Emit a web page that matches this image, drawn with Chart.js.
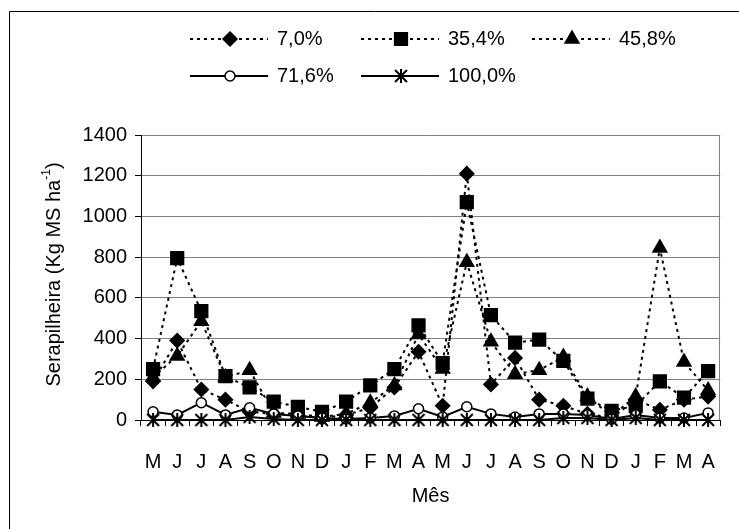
<!DOCTYPE html>
<html>
<head>
<meta charset="utf-8">
<script src="https://cdn.jsdelivr.net/npm/chart.js@4/dist/chart.umd.min.js"></script>
<style>
  html, body { margin: 0; padding: 0; background: #fff; }
  #wrap { width: 739px; height: 529px; position: relative; }
</style>
</head>
<body>
<div id="wrap"><canvas id="c" width="739" height="529"></canvas></div>
<script>
// Months of the sampling period (May to April, two years)
const months = ['M','J','J','A','S','O','N','D','J','F','M','A',
                'M','J','J','A','S','O','N','D','J','F','M','A'];

// Series labels (percent levels)
const seriesNames = ['7,0%', '35,4%', '45,8%', '71,6%', '100,0%'];

// Litter values, kg MS ha-1
const s070  = [190, 390, 150, 100,  40,  30,  20,  10,  25,  60, 160, 335,
                70, 1210, 175, 305, 100,  70,  30,  10, 100,  50, 100, 115];
const s354  = [250, 795, 535, 215, 160,  90,  65,  40,  90, 170, 250, 465,
               280, 1070, 515, 380, 395, 290, 105,  45,  70, 190, 110, 240];
const s458  = [210, 315, 485, 210, 245,  35,  30,  15,  30,  85, 170, 420,
               250, 775, 385, 225, 245, 310, 115,  20, 115, 845, 285, 145];
const s716  = [ 40,  25,  85,  25,  60,  30,  20,  10,   5,  10,  20,  55,
                15,  65,  30,  15,  30,  30,  25,   5,  25,  10,  10,  35];
const s1000 = [  0,   0,   0,   0,  15,   5,   0,   0,   0,   0,   0,   0,
                 0,   0,   0,   0,   0,  10,  10,   0,  10,   0,   0,   0];

// Y axis tick values
const yTicks = [0, 200, 400, 600, 800, 1000, 1200, 1400];

const FONT = '"Liberation Sans", Arial, sans-serif';
const FS = 20;

// Asterisk marker (X with a vertical bar)
function makeStar(size) {
  const c = document.createElement('canvas');
  c.width = size; c.height = size;
  const g = c.getContext('2d');
  const m = size / 2, r = size / 2 - 1;
  g.strokeStyle = '#000';
  g.lineWidth = 2;
  g.beginPath();
  g.moveTo(m, m - r); g.lineTo(m, m + r);
  const d = r * 0.85;
  g.moveTo(m - d, m - d); g.lineTo(m + d, m + d);
  g.moveTo(m - d, m + d); g.lineTo(m + d, m - d);
  g.stroke();
  return c;
}
const starImg = makeStar(16);

const DOTS = [3, 4];
const styles = [
  { data: s070,  pointStyle: 'rectRot',  radius: 7, fill: '#000', dash: DOTS },
  { data: s354,  pointStyle: 'rect',     radius: 9, fill: '#000', dash: DOTS },
  { data: s458,  pointStyle: 'triangle', radius: 8, fill: '#000', dash: DOTS },
  { data: s716,  pointStyle: 'circle',   radius: 5, fill: '#fff', dash: [] },
  { data: s1000, pointStyle: starImg,    radius: 8, fill: '#000', dash: [] }
];

const datasets = styles.map((s, i) => ({
  label: seriesNames[i],
  data: s.data,
  borderColor: '#000',
  borderWidth: 2,
  borderDash: s.dash,
  backgroundColor: s.fill,
  pointStyle: s.pointStyle,
  pointRadius: s.radius,
  pointHoverRadius: s.radius,
  pointBackgroundColor: s.fill,
  pointBorderColor: '#000',
  pointBorderWidth: 1.5,
  tension: 0,
  fill: false,
  clip: false,
  order: styles.length - 1 - i
}));

// Small marker painter for the legend samples
function drawMarker(ctx, style, r, fill, x, y) {
  ctx.save();
  ctx.fillStyle = fill;
  ctx.strokeStyle = '#000';
  ctx.lineWidth = 1.5;
  ctx.setLineDash([]);
  if (style instanceof HTMLCanvasElement) {
    ctx.drawImage(style, x - style.width / 2, y - style.height / 2);
    ctx.restore();
    return;
  }
  ctx.beginPath();
  if (style === 'rectRot') {
    ctx.moveTo(x, y - r); ctx.lineTo(x + r, y); ctx.lineTo(x, y + r); ctx.lineTo(x - r, y);
  } else if (style === 'rect') {
    const h = r / Math.SQRT2;
    ctx.rect(x - h, y - h, 2 * h, 2 * h);
  } else if (style === 'triangle') {
    ctx.moveTo(x, y - r);
    ctx.lineTo(x + r * Math.sin(Math.PI / 3), y + r / 2);
    ctx.lineTo(x - r * Math.sin(Math.PI / 3), y + r / 2);
  } else {
    ctx.arc(x, y, r, 0, Math.PI * 2);
  }
  ctx.closePath();
  ctx.fill();
  ctx.stroke();
  ctx.restore();
}

const decor = {
  id: 'decor',
  beforeDraw(chart) {
    const ctx = chart.ctx;
    ctx.save();
    ctx.fillStyle = '#fff';
    ctx.fillRect(0, 0, chart.width, chart.height);
    // outer frame
    ctx.strokeStyle = '#000';
    ctx.lineWidth = 1;
    ctx.beginPath();
    ctx.moveTo(9.5, chart.height); ctx.lineTo(9.5, 11.5); ctx.lineTo(chart.width, 11.5);
    ctx.stroke();
    ctx.restore();
  },
  beforeDatasetsDraw(chart) {
    const { ctx, chartArea: a } = chart;
    ctx.save();
    ctx.strokeStyle = '#808080';
    ctx.lineWidth = 1;
    ctx.beginPath();
    ctx.moveTo(Math.round(a.right) - 0.5, a.top);
    ctx.lineTo(Math.round(a.right) - 0.5, a.bottom);
    ctx.stroke();
    ctx.restore();
  },
  afterDraw(chart) {
    const { ctx, chartArea: a } = chart;
    ctx.save();
    ctx.fillStyle = '#000';
    ctx.font = FS + 'px ' + FONT;
    ctx.textBaseline = 'middle';

    // legend: two rows
    const x0 = 190, step = 171, lineLen = 78;
    const rows = [[0, 1, 2], [3, 4]];
    const rowY = [39, 76];
    rows.forEach((row, ri) => {
      row.forEach((di, ci) => {
        const s = styles[di];
        const lx = x0 + ci * step, y = rowY[ri];
        ctx.save();
        ctx.strokeStyle = '#000';
        ctx.lineWidth = 2;
        ctx.setLineDash(s.dash);
        ctx.beginPath();
        ctx.moveTo(lx, y); ctx.lineTo(lx + lineLen, y);
        ctx.stroke();
        ctx.restore();
        drawMarker(ctx, s.pointStyle, s.radius, s.fill, lx + 40, y);
        ctx.textAlign = 'left';
        ctx.fillText(seriesNames[di], lx + 87, y);
      });
    });

    // x axis title
    ctx.textAlign = 'center';
    ctx.fillText('Mês', (a.left + a.right) / 2, a.bottom + 76);

    // y axis title with superscript
    const main = 'Serapilheira (Kg MS ha';
    const sup = '-1';
    const tail = ')';
    const supFont = Math.round(FS * 0.6) + 'px ' + FONT;
    const wMain = ctx.measureText(main).width;
    const wTail = ctx.measureText(tail).width;
    ctx.font = supFont;
    const wSup = ctx.measureText(sup).width;
    const total = wMain + wSup + wTail;
    ctx.translate(54, (a.top + a.bottom) / 2 - 3);
    ctx.rotate(-Math.PI / 2);
    ctx.textAlign = 'left';
    let x = -total / 2;
    ctx.font = FS + 'px ' + FONT;
    ctx.fillText(main, x, 0); x += wMain;
    ctx.font = supFont;
    ctx.fillText(sup, x, -7); x += wSup;
    ctx.font = FS + 'px ' + FONT;
    ctx.fillText(tail, x, 0);
    ctx.restore();
  }
};

new Chart(document.getElementById('c'), {
  type: 'line',
  data: { labels: months, datasets },
  plugins: [decor],
  options: {
    responsive: false,
    animation: false,
    events: [],
    layout: { padding: { top: 135, left: 0, right: 4, bottom: 0 } },
    plugins: { legend: { display: false }, tooltip: { enabled: false } },
    scales: {
      x: {
        type: 'category',
        offset: true,
        afterFit(scale) { scale.height = 109; },
        grid: {
          offset: true,
          drawOnChartArea: false,
          drawTicks: true,
          tickLength: 6,
          color: '#000',
          tickColor: '#000'
        },
        border: { color: '#000', width: 1 },
        ticks: {
          color: '#000',
          font: { family: FONT, size: FS },
          padding: 24,
          maxRotation: 0,
          autoSkip: false
        }
      },
      y: {
        min: yTicks[0],
        max: yTicks[yTicks.length - 1],
        afterFit(scale) { scale.width = 141; },
        afterBuildTicks(scale) { scale.ticks = yTicks.map(v => ({ value: v })); },
        grid: {
          color: '#808080',
          tickColor: '#000',
          tickLength: 6,
          lineWidth: 1
        },
        border: { color: '#000', width: 1 },
        ticks: {
          color: '#000',
          font: { family: FONT, size: FS },
          padding: 8,
          callback: (v) => String(v)
        }
      }
    }
  }
});
</script>
</body>
</html>
